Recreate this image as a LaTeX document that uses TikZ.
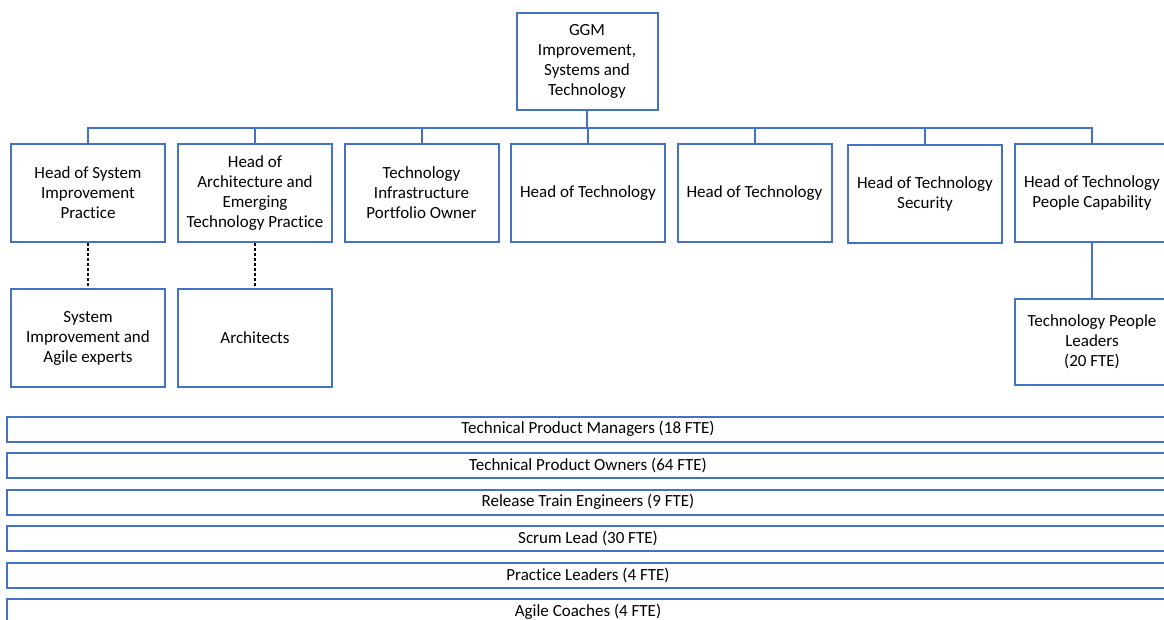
\documentclass[tikz,border=0pt]{standalone}
\usepackage{fontspec}
\setmainfont{Carlito}[Ligatures=NoCommon]
\definecolor{boxblue}{HTML}{4472C4}
\begin{document}
\begin{tikzpicture}[x=1pt, y=-1pt,
box/.style={draw=boxblue, line width=2pt, minimum width=154pt, minimum height=98pt, inner sep=0pt, align=center, font=\fontsize{17}{20}\selectfont},
bar/.style={box, minimum width=1162pt, minimum height=25pt},
link/.style={draw=boxblue, line width=2pt},
dots/.style={black, line width=2pt, dash pattern=on 3pt off 2pt}]
\useasboundingbox (0,0) rectangle (1164,619);
\node[box, minimum width=141pt, minimum height=97pt] (ggm) at (587,61.5) {GGM\\Improvement,\\Systems and\\Technology};
\node[box] (sip) at (88,193) {Head of System\\Improvement\\Practice};
\node[box] (aet) at (255,193) {Head of\\Architecture and\\Emerging\\Technology Practice};
\node[box] (tip) at (421.5,193) {Technology\\Infrastructure\\Portfolio Owner};
\node[box] (hot1) at (588,193) {Head of Technology};
\node[box] (hot2) at (754.5,193) {Head of Technology};
\node[box] (hts) at (925,194) {Head of Technology\\Security};
\node[box] (hpc) at (1092,193) {Head of Technology\\People Capability};
\node[box] (sie) at (88,338) {System\\Improvement and\\Agile experts};
\node[box] (arch) at (255,337.5) {Architects};
\node[box, minimum height=86pt] (tpl) at (1092,342) {Technology People\\Leaders\\(20 FTE)};
\coordinate (bus) at (0,128);
\foreach \n in {sip,aet,tip,hot1,hot2,hts,hpc}
    \draw[link] (ggm.south) -- (ggm.south |- bus) -| (\n.north);
\draw[dots] (sip.south) -- (sie.north);
\draw[dots] (aet.south) -- (arch.north);
\draw[link] (hpc.south) -- (tpl.north);
\foreach \t [count=\i from 0] in {Technical Product Managers (18 FTE), Technical Product Owners (64 FTE), Release Train Engineers (9 FTE), Scrum Lead (30 FTE), Practice Leaders (4 FTE), Agile Coaches (4 FTE)}
    \node[bar] (bar\i) at (588,429.2+36.5*\i) {\t};
\end{tikzpicture}
\end{document}
